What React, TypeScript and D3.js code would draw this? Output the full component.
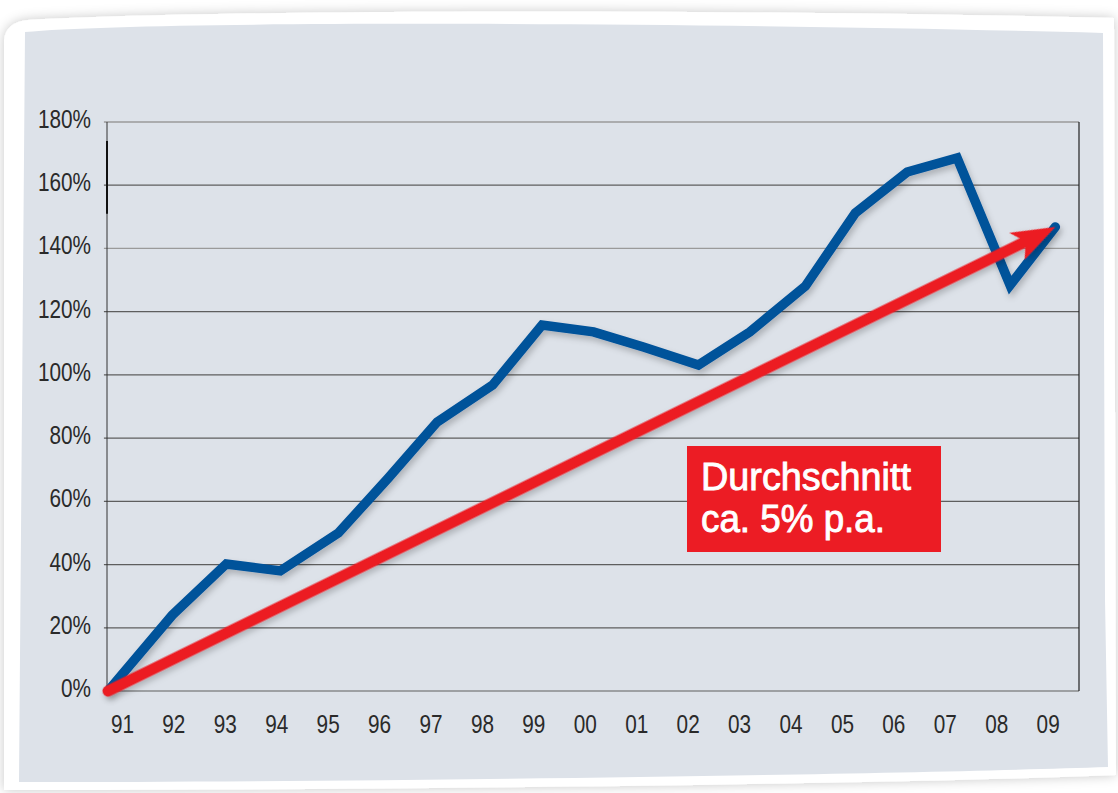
import React, { useEffect, useRef } from 'react';
import * as d3 from 'd3';

// year labels on the x axis
const years = ['91', '92', '93', '94', '95', '96', '97', '98', '99', '00', '01', '02', '03', '04', '05', '06', '07', '08', '09'];
const yTicks = [0, 20, 40, 60, 80, 100, 120, 140, 160, 180];
// blue performance line: x in label index units (points sit a bit off the labels), y in %
const perfX = [-0.28, 0.97, 2.02, 3.07, 4.2, 5.17, 6.12, 7.2, 8.16, 9.16, 10.13, 11.2, 12.2, 13.28, 14.25, 15.26, 16.23, 17.26, 18.14];
const perfY = [0, 24.0, 40.2, 38.0, 50.0, 67.4, 85.1, 96.8, 115.8, 113.6, 108.8, 103.1, 113.6, 128.1, 151.2, 164.2, 168.6, 128.4, 146.8];
// red average arrow (start, end)
const avgX = [-0.28, 18.14];
const avgY = [0, 146.8];
const noteLines = ['Durchschnitt', 'ca. 5% p.a.'];

const W = 1118;
const H = 793;
const font = '"Liberation Sans", Arial, sans-serif';
const squeeze = 0.83; // condensed look for the tick labels

export default function App() {
  const ref = useRef<SVGSVGElement>(null);

  useEffect(() => {
    const svg = d3.select(ref.current);
    svg.selectAll('*').remove();

    const defs = svg.append('defs');
    const sh = defs.append('filter').attr('id', 'lineShadow')
      .attr('x', '-10%').attr('y', '-10%').attr('width', '120%').attr('height', '120%');
    sh.append('feDropShadow').attr('dx', 2).attr('dy', 4).attr('stdDeviation', 3)
      .attr('flood-color', '#000').attr('flood-opacity', 0.22);
    const cs = defs.append('filter').attr('id', 'cardShadow')
      .attr('x', '-5%').attr('y', '-5%').attr('width', '110%').attr('height', '110%');
    cs.append('feDropShadow').attr('dx', 0).attr('dy', 0).attr('stdDeviation', 6)
      .attr('flood-color', '#000').attr('flood-opacity', 0.22);

    // page + paper card
    svg.append('rect').attr('width', W).attr('height', H).attr('fill', '#fff');
    svg.append('path')
      .attr('d', 'M4,40 Q6,22 28,20 C200,10 700,8 1114,18 L1116,775 C900,784 400,790 4,790 Z')
      .attr('fill', '#fff')
      .attr('filter', 'url(#cardShadow)');
    svg.append('path')
      .attr('d', 'M25,32 C150,20 700,22 1103,33 L1105,600 L1108,767 C900,774 400,782 19,782 Z')
      .attr('fill', '#dde2e9');

    const x = d3.scaleLinear().domain([-0.3, 18.6]).range([107, 1079]);
    const y = d3.scaleLinear().domain([0, 180]).range([691, 122]);

    const g = svg.append('g');

    // horizontal grid
    g.selectAll('.grid')
      .data(yTicks)
      .enter()
      .append('line')
      .attr('x1', x(-0.36)).attr('x2', x(18.6))
      .attr('y1', d => y(d)).attr('y2', d => y(d))
      .attr('stroke', d => (d === 180 || d === 140 ? '#9a9a9a' : '#5e5e5e'))
      .attr('stroke-width', d => (d === 180 ? 1.6 : 1.2));

    // left axis and right frame
    g.append('line').attr('x1', x(-0.3)).attr('x2', x(-0.3)).attr('y1', y(180)).attr('y2', y(0))
      .attr('stroke', '#333').attr('stroke-width', 1);
    g.append('line').attr('x1', x(-0.3)).attr('x2', x(-0.3)).attr('y1', y(174)).attr('y2', y(151))
      .attr('stroke', '#111').attr('stroke-width', 2);
    g.append('line').attr('x1', x(18.6)).attr('x2', x(18.6)).attr('y1', y(180)).attr('y2', y(0))
      .attr('stroke', '#222').attr('stroke-width', 1.2);

    // y labels
    g.selectAll('.ylab')
      .data(yTicks)
      .enter()
      .append('text')
      .attr('transform', d => `translate(91,${y(d) + 6}) scale(${squeeze},1)`)
      .attr('text-anchor', 'end')
      .style('font-family', font)
      .style('font-size', '25px')
      .attr('fill', '#2a2a2a')
      .text(d => d + '%');

    // x labels
    g.selectAll('.xlab')
      .data(years)
      .enter()
      .append('text')
      .attr('transform', (d, i) => `translate(${x(i)},733) scale(${squeeze},1)`)
      .attr('text-anchor', 'middle')
      .style('font-family', font)
      .style('font-size', '25px')
      .attr('fill', '#2a2a2a')
      .text(d => d);

    // blue performance line
    const perf = perfX.map((v, i) => [x(v), y(perfY[i])] as [number, number]);
    g.append('path')
      .attr('d', d3.line()(perf))
      .attr('fill', 'none')
      .attr('stroke', '#03529a')
      .attr('stroke-width', 9.5)
      .attr('stroke-linejoin', 'miter')
      .attr('stroke-linecap', 'round')
      .attr('filter', 'url(#lineShadow)');

    // red average arrow
    const x0 = x(avgX[0]), y0 = y(avgY[0]);
    const x1 = x(avgX[1]), y1 = y(avgY[1]);
    const ang = Math.atan2(y1 - y0, x1 - x0);
    const len = Math.hypot(x1 - x0, y1 - y0);
    const arrow = g.append('g')
      .attr('transform', `translate(${x0},${y0}) rotate(${(ang * 180) / Math.PI})`)
      .attr('filter', 'url(#lineShadow)');
    arrow.append('line')
      .attr('x1', 0).attr('y1', 0).attr('x2', len - 28).attr('y2', 0)
      .attr('stroke', '#ec1c24')
      .attr('stroke-width', 11)
      .attr('stroke-linecap', 'round');
    arrow.append('path')
      .attr('d', `M${len},0 L${len - 44},-15 L${len - 33},0 L${len - 42},16 Z`)
      .attr('fill', '#ec1c24');

    // annotation box
    const note = g.append('g');
    note.append('rect')
      .attr('x', 687).attr('y', 446).attr('width', 254).attr('height', 106)
      .attr('fill', '#ec1c24');
    note.selectAll('text')
      .data(noteLines)
      .enter()
      .append('text')
      .attr('x', 701)
      .attr('y', (d, i) => 490 + i * 42)
      .style('font-family', font)
      .style('font-size', '39px')
      .attr('textLength', (d, i) => (i === 0 ? 210 : 184))
      .attr('lengthAdjust', 'spacingAndGlyphs')
      .attr('fill', '#fff')
      .attr('stroke', '#fff')
      .attr('stroke-width', 0.9)
      .text(d => d);
  }, []);

  return (
    <svg
      ref={ref}
      width={W}
      height={H}
      style={{ position: 'absolute', left: 0, top: 0, display: 'block' }}
    />
  );
}
